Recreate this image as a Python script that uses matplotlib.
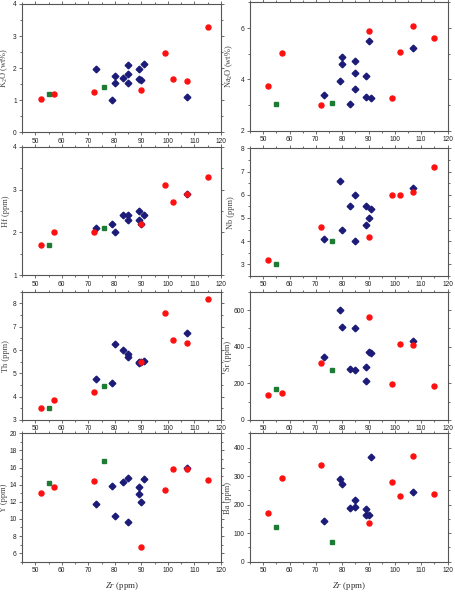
import numpy as np
import matplotlib
matplotlib.use("Agg")
import matplotlib.pyplot as plt
from matplotlib.ticker import MultipleLocator

plt.rcParams["mathtext.fontset"] = "custom"
plt.rcParams["mathtext.rm"] = "Liberation Serif"
plt.rcParams["mathtext.it"] = "Liberation Serif:italic"

nan = np.nan

# ---- data ----
zr_red = [52, 57, 72, 90, 99, 102, 107, 115]
zr_navy = [73, 79, 80, 80, 83, 85, 85, 85, 89, 89, 90, 91, 107]
zr_green = [55, 76]

k2o_red = [1.03, 1.19, 1.25, 1.32, 2.48, 1.67, 1.61, 3.27]
k2o_navy = [1.96, 1.01, 1.75, 1.53, 1.69, 2.10, 1.83, 1.53, 1.96, 1.67, 1.63, 2.12, 1.09]
k2o_green = [1.18, 1.42]

na2o_red = [3.74, 5.04, 2.99, 5.90, 3.29, 5.06, 6.08, 5.62]
na2o_navy = [3.39, 3.95, 4.87, 4.60, 3.03, 4.73, 4.26, 3.62, 4.14, 3.32, 5.50, 3.29, 5.22]
na2o_green = [3.03, 3.09]

hf_red = [1.71, 2.00, 2.00, 2.19, 3.10, 2.70, 2.90, 3.29]
hf_navy = [2.10, 2.20, 2.00, nan, 2.40, 2.40, 2.30, nan, 2.50, 2.30, 2.20, 2.40, 2.90]
hf_green = [1.71, 2.10]

nb_red = [3.21, nan, 4.61, 4.20, 6.00, 6.00, 6.10, 7.20]
nb_navy = [4.10, 6.60, 4.50, nan, 5.50, 6.00, 4.00, nan, 5.50, 4.70, 5.00, 5.40, 6.30]
nb_green = [3.00, 4.00]

th_red = [3.53, 3.85, 4.19, 5.50, 7.60, 6.45, 6.30, 8.20]
th_navy = [4.77, 4.57, 6.26, nan, 6.00, 5.83, 5.69, nan, 5.50, 5.43, 5.50, 5.53, 6.72]
th_green = [3.53, 4.45]

sr_red = [136, 147, 309, 562, 198, 416, 411, 185]
sr_navy = [342, 602, 507, nan, 276, 271, 502, nan, 291, 213, 373, 365, 429]
sr_green = [167, 273]

y_red = [13.0, 13.7, 14.4, 6.7, 13.4, 15.8, 15.8, 14.5]
y_navy = [11.7, 13.8, 10.3, nan, 14.3, 14.8, 9.68, nan, 13.7, 12.96, 12.0, 14.65, 15.9]
y_green = [14.2, 16.8]

ba_red = [170, 292, 339, 135, 278, 229, 371, 239]
ba_navy = [144, 290, 274, nan, 188, 216, 190, nan, 184, 163, 163, 368, 246]
ba_green = [120, 68]

labels = [r"K$_2$O (wt%)", r"Na$_2$O (wt%)", "Hf (ppm)", "Nb (ppm)",
          "Th (ppm)", "Sr (ppm)", "Y (ppm)", "Ba (ppm)"]

panels = [
    (k2o_red, k2o_navy, k2o_green),
    (na2o_red, na2o_navy, na2o_green),
    (hf_red, hf_navy, hf_green),
    (nb_red, nb_navy, nb_green),
    (th_red, th_navy, th_green),
    (sr_red, sr_navy, sr_green),
    (y_red, y_navy, y_green),
    (ba_red, ba_navy, ba_green),
]

# (ylim, major, minor)
yaxes = [
    ((0, 4), 1, 0.5),
    ((2, 7), 2, 1),
    ((1, 4), 1, 0.5),
    ((2.5, 8), 1, 0.5),
    ((3, 8.5), 1, 0.5),
    ((0, 700), 200, 100),
    ((5, 20), 2, 1),
    ((0, 450), 100, 50),
]

W, H = 455, 599
# pixel boxes: left, right, top, bottom
boxes = [
    (22, 221, 4.0, 132.3), (250, 447.5, 2.4, 130.7),
    (22, 221, 146.7, 275.3), (250, 447.5, 148.3, 276.0),
    (22, 221, 291.7, 420.0), (250, 447.5, 291.7, 420.0),
    (22, 221, 433.3, 561.7), (250, 447.5, 433.3, 561.7),
]
# right edge (pixels) of each y label
label_x = [10.5, 234.5, 10.5, 234.5, 10.5, 232.0, 8.0, 232.0]

RED = "#ff1010"
NAVY = "#1c1c78"
GREEN = "#1e7b34"
SPINE = "#555555"

fig = plt.figure(figsize=(W / 100, H / 100), dpi=100)

for i, (box, data, ya, lab) in enumerate(zip(boxes, panels, yaxes, labels)):
    l, r, t, b = box
    ax = fig.add_axes([l / W, 1 - b / H, (r - l) / W, (b - t) / H])
    red, navy, green = data
    ax.plot(zr_navy, navy, linestyle="none", marker="D", ms=3.4,
            color=NAVY, mec=NAVY, zorder=3)
    ax.plot(zr_red, red, linestyle="none", marker="o", ms=3.6,
            color=RED, mec=RED, zorder=4)
    ax.plot(zr_green, green, linestyle="none", marker="s", ms=3.2,
            color=GREEN, mec=GREEN, zorder=5)
    ax.set_xlim(45, 120)
    ax.set_ylim(*ya[0])
    ax.xaxis.set_major_locator(MultipleLocator(10))
    ax.xaxis.set_minor_locator(MultipleLocator(5))
    ax.yaxis.set_major_locator(MultipleLocator(ya[1]))
    ax.yaxis.set_minor_locator(MultipleLocator(ya[2]))
    ax.tick_params(which="both", direction="out", top=True, right=True,
                   colors=SPINE, labelcolor="#222222", width=0.6)
    ax.tick_params(which="major", length=2.5, labelsize=4.8, pad=1.3)
    ax.tick_params(which="minor", length=1.5)
    for lbl in ax.get_xticklabels() + ax.get_yticklabels():
        lbl.set_family(["Liberation Sans", "DejaVu Sans"])
    for sp in ax.spines.values():
        sp.set_color(SPINE)
        sp.set_linewidth(0.8)
    ax.set_ylabel(lab, family=["Liberation Serif", "DejaVu Serif"],
                  fontsize=6.0, color="#444444")
    ax.yaxis.set_label_coords((label_x[i] - l) / (r - l), 0.5)
    if i >= 6:
        ax.set_xlabel(r"$\it{Zr}$ (ppm)", family=["Liberation Serif", "DejaVu Serif"],
                      fontsize=6.4, color="#333333", labelpad=4)

fig.savefig("out.png", dpi=100)
